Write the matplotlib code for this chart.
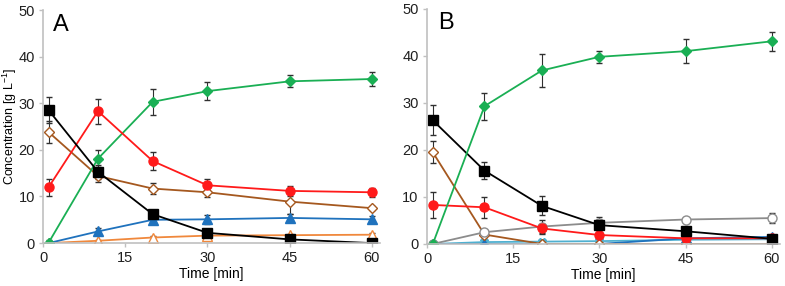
import numpy as np
import matplotlib.pyplot as plt

plt.rcParams['font.family'] = ['Liberation Sans', 'DejaVu Sans']
plt.rcParams['mathtext.fontset'] = 'custom'
plt.rcParams['mathtext.rm'] = 'Liberation Sans'
plt.rcParams['mathtext.it'] = 'Liberation Sans'

# sampling times (min)
time = [1, 10, 20, 30, 45, 60]

# panel A
a_black = [28.5, 15.3, 6.2, 2.2, 0.8, 0.0]
a_black_err = [2.8, 1.5, 1.0, 0.5, 0.3, 0.2]
a_red = [12.0, 28.3, 17.6, 12.4, 11.2, 10.9]
a_red_err = [1.8, 2.7, 1.9, 1.3, 1.1, 1.0]
a_green = [0.1, 18.1, 30.3, 32.6, 34.7, 35.2]
a_green_err = [0.5, 1.8, 2.8, 2.0, 1.3, 1.5]
a_brown = [23.8, 14.4, 11.7, 10.9, 8.9, 7.5]
a_brown_err = [2.3, 1.3, 1.1, 1.0, 2.6, 0.4]
a_blue = [0.0, 2.5, 5.0, 5.1, 5.4, 5.1]
a_blue_err = [0.2, 0.8, 0.7, 0.9, 0.8, 0.8]
a_orange = [0.0, 0.5, 1.2, 1.6, 1.7, 1.8]
a_orange_err = [0.1, 0.2, 0.3, 0.3, 0.3, 0.3]

# panel B
b_green = [0.0, 29.3, 36.9, 39.8, 41.0, 43.1]
b_green_err = [0.2, 2.9, 3.6, 1.3, 2.5, 2.0]
b_black = [26.3, 15.6, 8.1, 4.0, 2.7, 1.1]
b_black_err = [3.2, 1.8, 2.0, 1.0, 0.4, 0.3]
b_brown = [19.5, 2.0, 0.0, 0.0, 0.0, 0.0]
b_brown_err = [2.3, 0.5, 0.1, 0.1, 0.1, 0.1]
b_red = [8.3, 7.8, 3.3, 1.9, 1.2, 1.2]
b_red_err = [2.8, 2.2, 1.0, 0.3, 0.3, 0.3]
b_grey = [0.0, 2.5, 3.7, 4.5, 5.2, 5.5]
b_grey_err = [0.1, 0.3, 1.5, 1.2, 0.3, 1.0]
b_blue = [0.0, 0.0, 0.0, 0.0, 1.2, 1.5]
b_blue_err = [0.1, 0.1, 0.1, 0.1, 0.3, 0.3]
b_cyan = [0.0, 0.4, 0.5, 0.6, 0.9, 1.0]
b_cyan_err = [0.1, 0.1, 0.2, 0.1, 0.1, 0.1]

xticks = [0, 15, 30, 45, 60]
yticks = [0, 10, 20, 30, 40, 50]

BLACK = '#000000'
RED = '#ff1a1a'
GREEN = '#1aaf54'
BROWN = '#a5581f'
BLUE = '#1f72bd'
ORANGE = '#f0883c'
GREY = '#8c8c8c'
CYAN = '#4fb0d0'


def series(ax, y, err, color, marker, filled=True, ms=6):
    face = color if filled else 'white'
    ax.errorbar(time, y, yerr=err, color=color, lw=1.3, marker=marker,
                ms=ms, mfc=face, mec=color, mew=1.0,
                ecolor='#303030', elinewidth=0.8, capsize=2, capthick=0.8)


def style(ax):
    ax.set_xlim(0, 61.5)
    ax.set_ylim(0, 50)
    ax.set_xticks(xticks)
    ax.set_yticks(yticks)
    for s in ['top', 'right']:
        ax.spines[s].set_visible(False)
    for s in ['left', 'bottom']:
        ax.spines[s].set_color('#c0c0c0')
        ax.spines[s].set_linewidth(1.2)
    ax.tick_params(colors='#c0c0c0', labelcolor='#202020', labelsize=10.5,
                   length=3, width=1, pad=3)
    ax.set_xlabel('Time [min]', fontsize=10, labelpad=1)


fig = plt.figure(figsize=(7.85, 2.86), dpi=100)
axA = fig.add_axes([0.055, 0.150, 0.429, 0.815])
axB = fig.add_axes([0.544, 0.147, 0.450, 0.822])

series(axA, a_orange, a_orange_err, ORANGE, '^', filled=False, ms=6.5)
series(axA, a_blue, a_blue_err, BLUE, '^', ms=6.5)
series(axA, a_brown, a_brown_err, BROWN, 'D', filled=False, ms=5.5)
series(axA, a_green, a_green_err, GREEN, 'D', ms=5.5)
series(axA, a_red, a_red_err, RED, 'o', ms=6.5)
series(axA, a_black, a_black_err, BLACK, 's', ms=6.5)
style(axA)
axA.set_ylabel('Concentration [g L$^{-1}$]', fontsize=9)
axA.yaxis.set_label_coords(-0.072, 0.5)
axA.text(0.03, 0.985, 'A', transform=axA.transAxes, fontsize=17,
         va='top', ha='left')

series(axB, b_cyan, b_cyan_err, CYAN, 'X', ms=5.5)
series(axB, b_blue, b_blue_err, BLUE, '^', ms=6.5)
series(axB, b_brown, b_brown_err, BROWN, 'D', filled=False, ms=5.5)
series(axB, b_grey, b_grey_err, GREY, 'o', filled=False, ms=6.5)
series(axB, b_red, b_red_err, RED, 'o', ms=6.5)
series(axB, b_black, b_black_err, BLACK, 's', ms=6.5)
series(axB, b_green, b_green_err, GREEN, 'D', ms=5.5)
style(axB)
axB.text(0.03, 0.985, 'B', transform=axB.transAxes, fontsize=17,
         va='top', ha='left')

fig.savefig('out.png', dpi=100)
